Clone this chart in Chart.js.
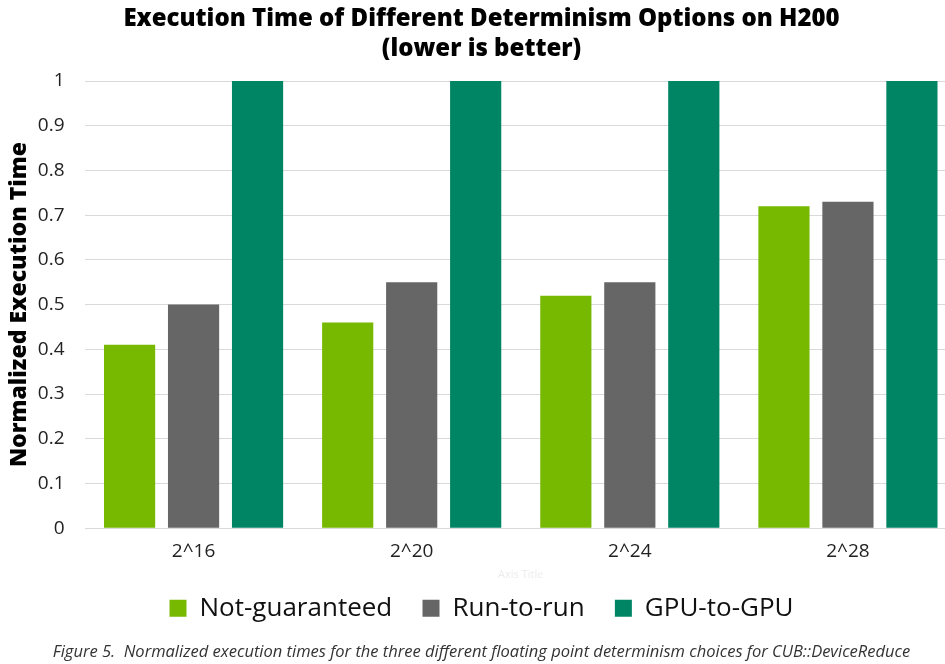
<!DOCTYPE html>
<html>
<head>
<meta charset="utf-8">
<script src="https://cdn.jsdelivr.net/npm/chart.js@4/dist/chart.umd.min.js"></script>
<style>
  body { margin: 0; background: #fff; overflow: hidden; }
  #wrap { width: 957px; height: 664px; }
</style>
</head>
<body>
<div id="wrap"><canvas id="chart"></canvas></div>
<script>
// data
var sizes = ['2^16', '2^20', '2^24', '2^28'];
var notGuaranteed = [0.41, 0.46, 0.52, 0.72];
var runToRun = [0.50, 0.55, 0.55, 0.73];
var gpuToGpu = [1, 1, 1, 1];
var yTicks = [0, 0.1, 0.2, 0.3, 0.4, 0.5, 0.6, 0.7, 0.8, 0.9, 1];

var fontName = "'Open Sans', 'Noto Sans', sans-serif";

function bars(label, data, color) {
    return {
        label: label,
        data: data,
        backgroundColor: color,
        borderWidth: 0,
        categoryPercentage: 0.88,
        barPercentage: 0.8
    };
}

var ctx = document.getElementById('chart').getContext('2d');
var myChart = new Chart(ctx, {
    type: 'bar',
    data: {
        labels: sizes,
        datasets: [
            bars('Not-guaranteed', notGuaranteed, '#76b900'),
            bars('Run-to-run', runToRun, '#666666'),
            bars('GPU-to-GPU', gpuToGpu, '#008564')
        ]
    },
    options: {
        responsive: true,
        maintainAspectRatio: false,
        animation: false,
        layout: { padding: { top: 4, left: 6, right: 0, bottom: 2 } },
        plugins: {
            title: {
                display: true,
                text: ['Execution Time of Different Determinism Options on H200', '(lower is better)'],
                color: '#000',
                font: { family: fontName, size: 24, weight: '800', lineHeight: 1.25 },
                padding: { top: 0, bottom: 17 }
            },
            subtitle: {
                display: true,
                position: 'bottom',
                text: 'Figure 5.  Normalized execution times for the three different floating point determinism choices for CUB::DeviceReduce',
                color: '#333',
                font: { family: fontName, size: 16.5, style: 'italic', lineHeight: 1.2 },
                padding: { top: 11, bottom: 0 }
            },
            legend: {
                position: 'bottom',
                labels: {
                    color: '#111',
                    font: { family: fontName, size: 26 },
                    boxWidth: 17,
                    boxHeight: 17,
                    padding: 10,
                    generateLabels: function (chart) {
                        var items = Chart.defaults.plugins.legend.labels.generateLabels(chart);
                        items.forEach(function (it, i) {
                            if (i < items.length - 1) it.text = it.text + '   ';
                        });
                        return items;
                    }
                }
            },
            tooltip: { enabled: false }
        },
        scales: {
            x: {
                grid: { display: false, drawTicks: false },
                border: { display: false },
                ticks: { color: '#222', font: { family: fontName, size: 19 }, padding: 12 },
                title: {
                    display: true,
                    text: 'Axis Title',
                    color: '#ececec',
                    font: { family: fontName, size: 11 },
                    padding: { top: -7, bottom: 4 }
                }
            },
            y: {
                min: 0,
                max: 1,
                afterBuildTicks: function (axis) {
                    axis.ticks = yTicks.map(function (v) { return { value: v }; });
                },
                afterFit: function (axis) {
                    axis.width = 78.5;
                },
                ticks: {
                    color: '#222',
                    font: { family: fontName, size: 19 },
                    padding: 20,
                    callback: function (v) { return String(Math.round(v * 10) / 10); }
                },
                grid: { color: '#d9d9d9', drawTicks: false },
                border: { display: false },
                title: {
                    display: true,
                    text: 'Normalized Execution Time',
                    color: '#000',
                    font: { family: fontName, size: 23, weight: '800' },
                    padding: { top: 0, bottom: 2 }
                }
            }
        }
    }
});
</script>
</body>
</html>
